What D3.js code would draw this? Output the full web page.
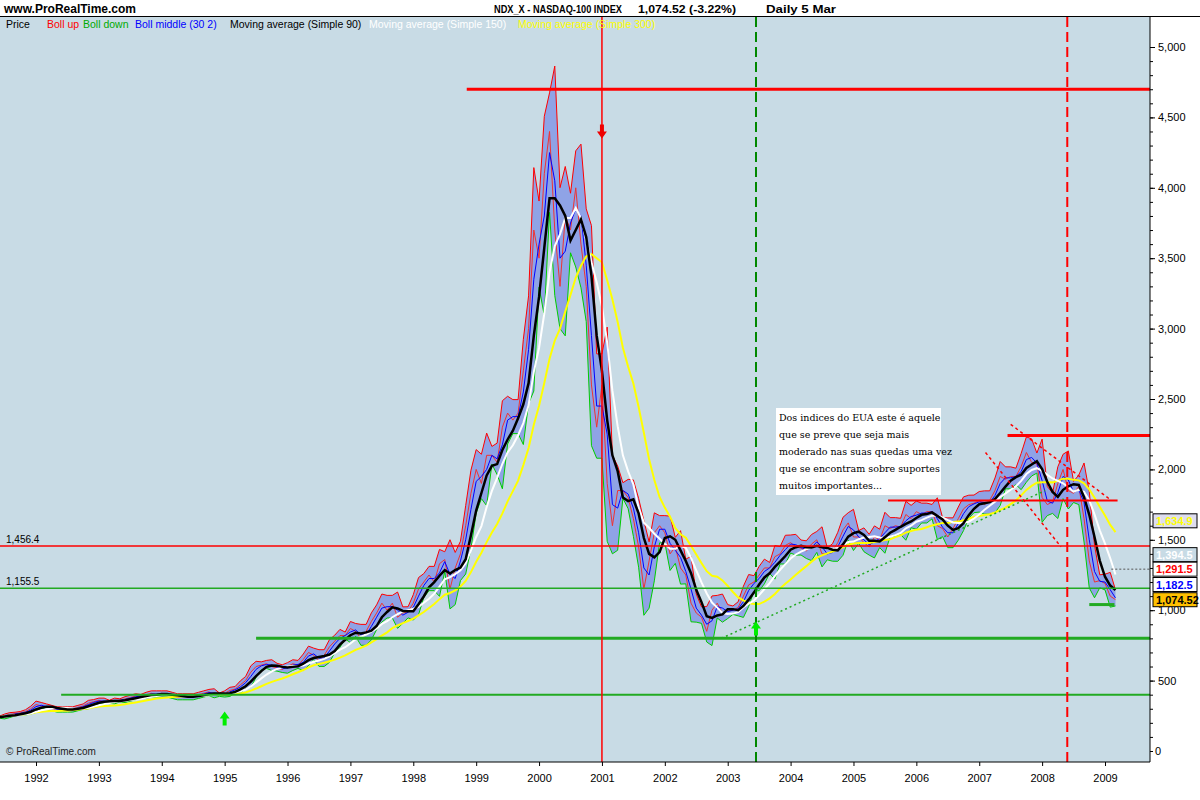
<!DOCTYPE html>
<html lang="en">
<head>
<meta charset="UTF-8">
<title>NDX_X</title>
<script src="https://d3js.org/d3.v7.min.js"></script>
<style>
body{margin:0;background:#fff;font-family:Arial,"Liberation Sans",sans-serif;}
</style>
</head>
<body>
<div id="chart"></div>
<script>
// monthly closes, Jun 1991 .. Mar 2009
const startYear = 1991, startMonth = 5;
const closes = [
  240,250,260,265,270,280,300,
  330,320,310,300,290,300,290,300,310,320,340,350,
  360,350,350,360,360,370,380,390,390,400,410,400,
  410,400,390,380,390,380,390,400,410,420,400,400,
  410,430,440,470,500,560,600,610,620,600,590,580,
  600,620,610,650,700,680,640,680,740,780,820,820,
  870,850,800,850,920,980,1050,1000,1050,950,980,990,
  1050,1150,1200,1250,1200,1330,1360,1150,1300,1400,1600,1830,
  2000,1900,2100,2100,2050,2300,2400,2350,2400,2700,3000,3700,
  3500,4100,4400,3700,3300,3800,3700,4000,3600,3300,2600,2300,
  2600,1900,1600,1850,1850,1800,1650,1450,1150,1350,1550,1600,
  1550,1400,1450,1300,1250,1050,980,950,850,1000,1050,980,
  1000,1000,1020,1100,1180,1200,1250,1300,1300,1380,1400,1460,
  1480,1450,1440,1420,1470,1500,1400,1400,1420,1480,1570,1620,
  1520,1520,1480,1450,1520,1500,1600,1580,1600,1590,1680,1650,
  1700,1680,1700,1700,1600,1580,1520,1580,1650,1720,1750,1760,
  1780,1750,1780,1850,1950,1930,1950,1950,2020,2120,2050,2040,
  1800,1750,1770,1900,2000,1850,1830,1880,1650,1350,1200,1210,
  1190,1100,1075
];
const yTicks = [500,1000,1500,2000,2500,3000,3500,4000,4500,5000];
const years = d3.range(1992, 2010);
const hLines = [ // value, from year, to year, colour, width
  [4700, 1998.85, 2009.72, "#f00", 3],
  [2240, 2007.45, 2009.72, "#f00", 3],
  [1780, 2005.55, 2009.2, "#f00", 2],
  [1456.4, 1991.4, 2009.72, "#f00", 1.5],
  [1155.5, 1991.4, 2009.72, "#2a2", 1.5],
  [800, 1995.5, 2009.72, "#2a2", 3],
  [400, 1992.4, 2009.72, "#2a2", 2],
  [1040, 2008.75, 2009.15, "#2a2", 3]
];
const vLines = [[2001.0, "#f00", 1.5, null], [2003.45, "#080", 2, "10,5"], [2008.4, "#f00", 2, "10,5"]];
const priceTags = [[1634.9, "#ffff00", "#dde"], [1394.5, "#fff", "#c8dbe5"], [1291.5, "#f00", "#fff"], [1182.5, "#00f", "#fff"], [1074.52, "#000", "#ffc000"]];
const legendItems = [["Price", "#000", 6], ["Boll up", "#f00", 47], ["Boll down", "#0a0", 83], ["Boll middle (30 2)", "#00f", 135],
  ["Moving average (Simple 90)", "#000", 230], ["Moving average (Simple 150)", "#fff", 369], ["Moving average (Simple 300)", "#ff0", 518]];
const titleItems = [["NDX_X - NASDAQ-100 INDEX", 494, 128], ["1,074.52 (-3.22%)", 638, 98], ["Daily  5 Mar", 766, 70]];

const W = 1200, H = 800, L = 0, R = 1150, B = 762;
const svg = d3.select("#chart").append("svg").attr("width", W).attr("height", H);
const x = d3.scaleLinear().domain([1992, 2009]).range([36, 1105]);
const y = d3.scaleLinear().domain([0, 5000]).range([751, 47]);

svg.append("rect").attr("x", L).attr("y", 17).attr("width", R - L).attr("height", B - 17).attr("fill", "#c8dbe5");
svg.append("line").attr("x1", 0).attr("x2", W).attr("y1", 16.5).attr("y2", 16.5).attr("stroke", "#000");

const data = closes.map((c, i) => ({t: startYear + (startMonth + i) / 12, c}));
const sma = (n) => data.map((d, i) => {
  const s = data.slice(Math.max(0, i - n + 1), i + 1);
  return {t: d.t, v: d3.mean(s, e => e.c), sd: d3.deviation(s, e => e.c) || 0};
});
const boll = sma(2), ma90 = sma(4), ma150 = sma(7), ma300 = sma(14);

const line = d3.line().x(d => x(d.t)).y(d => y(d.v));
const up = d => d.v + 1.4 * d.sd + 0.03 * d.v, dn = d => d.v - 1.4 * d.sd - 0.03 * d.v;
const plot = svg.append("g");
plot.append("path").datum(boll)
  .attr("d", d3.area().x(d => x(d.t)).y0(d => y(dn(d))).y1(d => y(up(d))))
  .attr("fill", "#8fa3e6");
plot.append("path").datum(boll).attr("d", d3.line().x(d => x(d.t)).y(d => y(up(d))))
  .attr("fill", "none").attr("stroke", "#f00").attr("stroke-width", 1);
plot.append("path").datum(boll).attr("d", d3.line().x(d => x(d.t)).y(d => y(dn(d))))
  .attr("fill", "none").attr("stroke", "#0c0").attr("stroke-width", 1);
plot.append("path").datum(data).attr("d", d3.line().x(d => x(d.t)).y(d => y(d.c)))
  .attr("fill", "none").attr("stroke", "#e33").attr("stroke-width", 1);
plot.append("path").datum(boll).attr("d", line).attr("fill", "none").attr("stroke", "#00f").attr("stroke-width", 1);
plot.append("path").datum(ma300).attr("d", line).attr("fill", "none").attr("stroke", "#ff0").attr("stroke-width", 2);
plot.append("path").datum(ma150).attr("d", line).attr("fill", "none").attr("stroke", "#fff").attr("stroke-width", 2);
plot.append("path").datum(ma90).attr("d", line).attr("fill", "none").attr("stroke", "#000").attr("stroke-width", 2.5);

hLines.forEach(([v, a, b, c, w]) => svg.append("line")
  .attr("x1", Math.max(L, x(a))).attr("x2", Math.min(R, x(b))).attr("y1", y(v)).attr("y2", y(v))
  .attr("stroke", c).attr("stroke-width", w));
vLines.forEach(([t, c, w, da]) => svg.append("line")
  .attr("x1", x(t)).attr("x2", x(t)).attr("y1", 17).attr("y2", B)
  .attr("stroke", c).attr("stroke-width", w).attr("stroke-dasharray", da));

// trendlines
svg.append("line").attr("x1", x(2002.9)).attr("y1", y(800)).attr("x2", x(2008.05)).attr("y2", y(1850))
  .attr("stroke", "#2a2").attr("stroke-dasharray", "2,3").attr("stroke-width", 1.5);
svg.append("line").attr("x1", x(2007.5)).attr("y1", y(2320)).attr("x2", x(2009.1)).attr("y2", y(1780))
  .attr("stroke", "#f00").attr("stroke-dasharray", "3,3").attr("stroke-width", 1.5);
svg.append("line").attr("x1", x(2007.1)).attr("y1", y(2120)).attr("x2", x(2008.3)).attr("y2", y(1450))
  .attr("stroke", "#f00").attr("stroke-dasharray", "3,3").attr("stroke-width", 1.5);
svg.append("line").attr("x1", x(2009.1)).attr("y1", y(1291.5)).attr("x2", R).attr("y2", y(1291.5))
  .attr("stroke", "#555").attr("stroke-dasharray", "2,2");

// arrows
const arrow = (t, v, upw, col) => {
  const cx = x(t), cy = y(v), s = upw ? -1 : 1;
  svg.append("path").attr("fill", col)
    .attr("d", `M${cx - 2},${cy - 7 * s}L${cx + 2},${cy - 7 * s}L${cx + 2},${cy}L${cx + 5},${cy}L${cx},${cy + 7 * s}L${cx - 5},${cy}L${cx - 2},${cy}Z`);
};
arrow(2001.0, 4400, false, "#e00");
arrow(1995.0, 230, true, "#0e0");
arrow(2003.45, 870, true, "#0e0");

// axes
svg.append("line").attr("x1", R).attr("x2", R).attr("y1", 17).attr("y2", B).attr("stroke", "#000");
svg.append("line").attr("x1", 0).attr("x2", R).attr("y1", B).attr("y2", B).attr("stroke", "#000");
const ya = svg.append("g").attr("transform", `translate(${R},0)`)
  .call(d3.axisRight(y).tickValues(yTicks).tickSize(5).tickFormat(d3.format(",")));
ya.select(".domain").remove();
ya.selectAll("text").attr("font-size", 11).attr("font-family", "Arial");
const ym = svg.append("g").attr("transform", `translate(${R},0)`)
  .call(d3.axisRight(y).ticks(50).tickSize(3).tickFormat(""));
ym.select(".domain").remove();
svg.append("text").attr("x", 1155).attr("y", y(0) + 4).attr("font-size", 11).text("0");
const xa = svg.append("g").attr("transform", `translate(0,${B})`)
  .call(d3.axisBottom(x).tickValues(years).tickSize(4).tickFormat(d3.format("d")));
xa.select(".domain").remove();
xa.selectAll("text").attr("font-size", 11).attr("font-family", "Arial").attr("dy", "1.2em");

// price tags
priceTags.forEach(([v, fg, bg]) => {
  const g = svg.append("g").attr("transform", `translate(1153,${y(v)})`);
  g.append("rect").attr("x", 0).attr("y", -7).attr("width", 44).attr("height", 14).attr("fill", bg).attr("stroke", "#000");
  g.append("text").attr("x", 3).attr("y", 4).attr("font-size", 11).attr("font-weight", "bold").attr("fill", fg)
    .text(d3.format(",")(v));
});
svg.append("text").attr("x", 6).attr("y", y(1456.4) - 3).attr("font-size", 10).text("1,456.4");
svg.append("text").attr("x", 6).attr("y", y(1155.5) - 3).attr("font-size", 10).text("1,155.5");

// header & legend
svg.append("text").attr("x", 4).attr("y", 13).attr("font-size", 12).attr("font-weight", "bold")
  .attr("textLength", 132).attr("lengthAdjust", "spacingAndGlyphs").text("www.ProRealTime.com");
titleItems.forEach(([t, px, len]) =>
  svg.append("text").attr("x", px).attr("y", 13).attr("font-size", 11).attr("font-weight", "bold")
    .attr("textLength", len).attr("lengthAdjust", "spacingAndGlyphs").text(t));
legendItems.forEach(([t, c, px]) =>
  svg.append("text").attr("x", px).attr("y", 28).attr("font-size", 10.5).attr("fill", c).text(t));
svg.append("text").attr("x", 6).attr("y", 755).attr("font-size", 10).attr("fill", "#222").text("© ProRealTime.com");

// comment box
const box = svg.append("g").attr("transform", "translate(776,408)");
box.append("rect").attr("width", 165).attr("height", 87).attr("fill", "#fff");
["Dos indices do EUA este é aquele", "que se preve que seja mais", "moderado nas suas quedas uma vez",
 "que se encontram sobre suportes", "muitos importantes..."].forEach((t, i) =>
  box.append("text").attr("x", 3).attr("y", 13 + i * 17).attr("font-size", 9.5)
    .attr("font-family", "'DejaVu Serif','Liberation Serif',serif").text(t));
</script>
</body>
</html>
